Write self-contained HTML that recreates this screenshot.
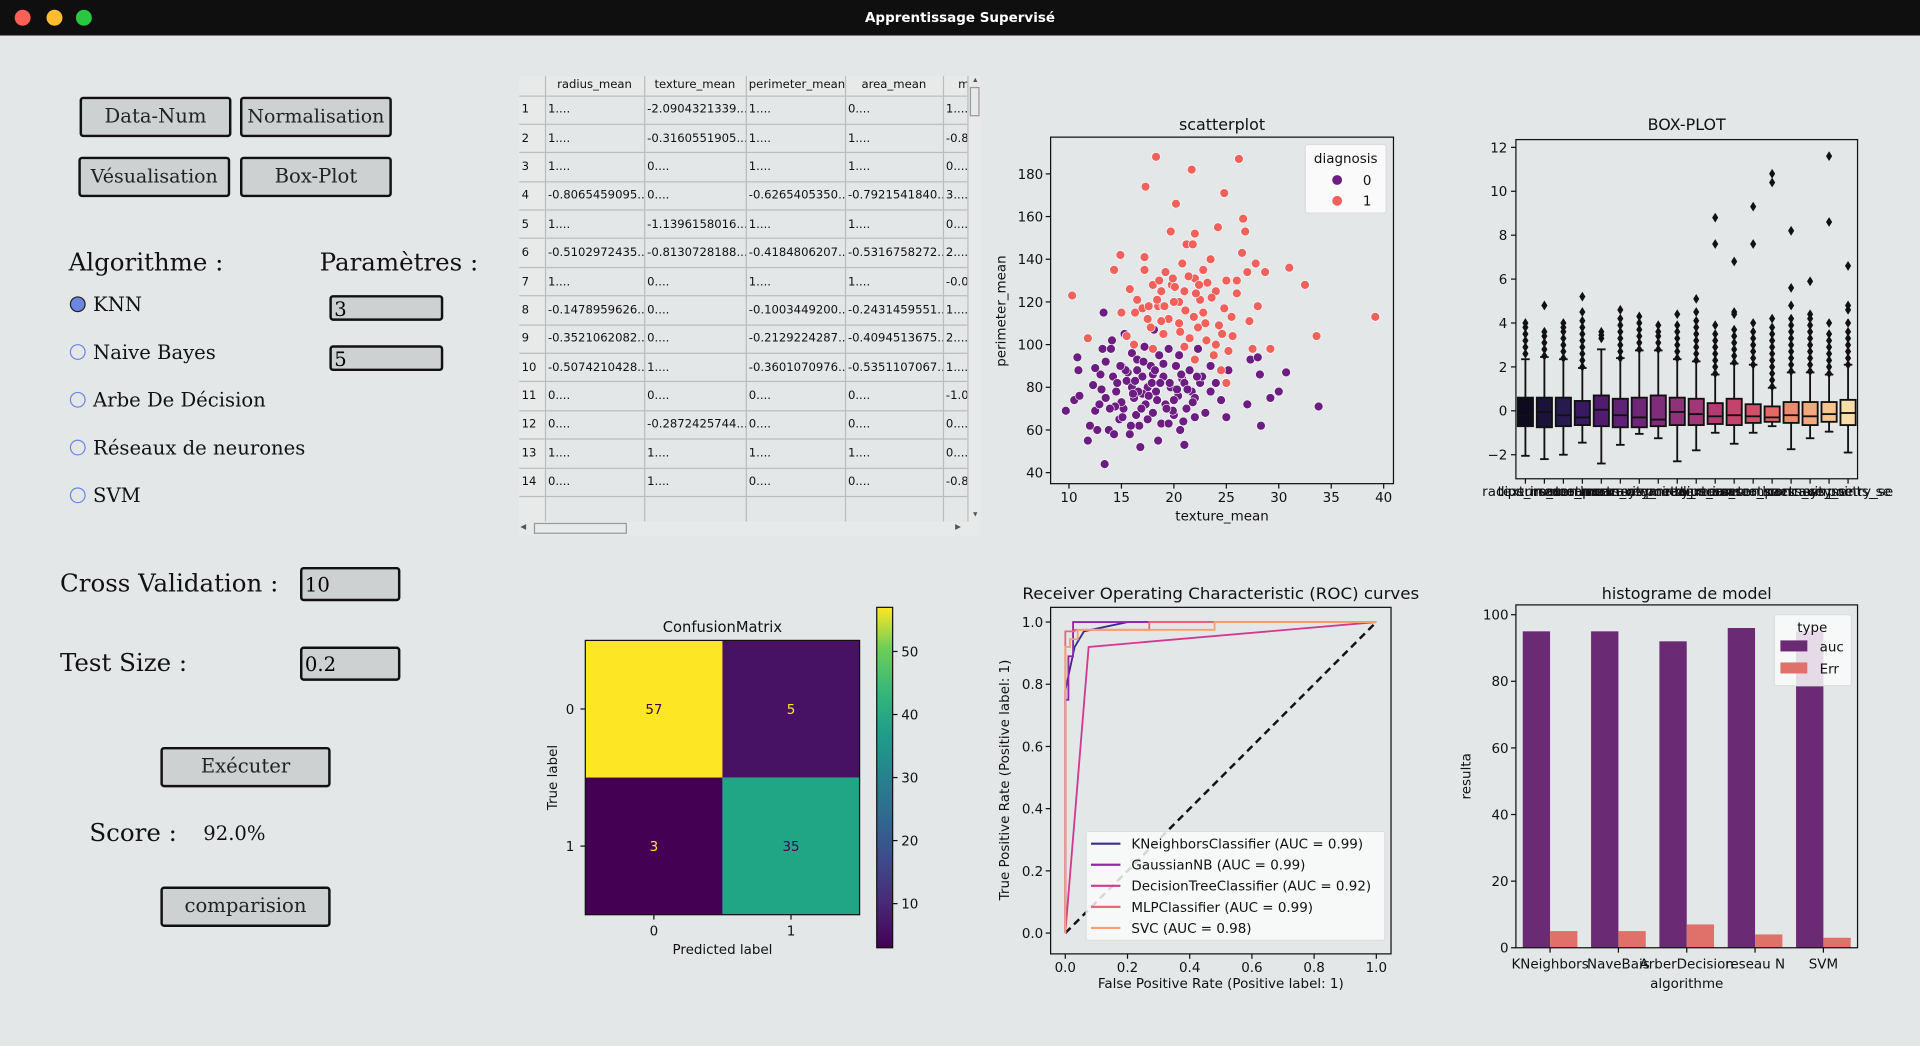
<!DOCTYPE html>
<html><head><meta charset="utf-8">
<style>
html,body{margin:0;padding:0;background:#e4e7e8;overflow:hidden;width:1920px;height:1046px}
#stage{position:absolute;left:0;top:0;width:1568px;height:854px;transform:scale(1.22449);transform-origin:0 0;background:#e4e7e8}
.abs{position:absolute}
.btn{position:absolute;background:#cdd1d1;border:2px solid #111;border-radius:3px;box-sizing:border-box;font-family:"DejaVu Serif","Liberation Serif",serif;font-size:16px;color:#222;text-align:center;line-height:28px;white-space:nowrap}
.lbl{position:absolute;font-family:"DejaVu Serif","Liberation Serif",serif;color:#111;white-space:nowrap}
.inp{position:absolute;background:#cdd1d1;border:2px solid #111;border-radius:3px;box-sizing:border-box;font-family:"DejaVu Serif",serif;font-size:16px;padding-left:2px;line-height:20px}
.radio{position:absolute;width:13px;height:13px;border-radius:50%;border:1px solid #6a86e6;box-sizing:border-box}
table{border-collapse:collapse;font-family:"DejaVu Sans","Liberation Sans",sans-serif;font-size:9.5px;color:#111;table-layout:fixed;width:386px}
td,th{border:1px solid #bcbcbc;white-space:nowrap;overflow:hidden;padding:0 2px;text-align:left;height:23.4px;box-sizing:border-box}
th{font-weight:normal;text-align:center;height:16px;background:#e8eaea;border-top:none}
td.rh{background:#e8eaea;border-left:none}
svg text{font-family:"DejaVu Sans","Liberation Sans",sans-serif}
</style></head><body>
<div id="stage">
  <div class="abs" style="left:0;top:0;width:1568px;height:29px;background:#0f0f0f">
    <div class="abs" style="left:12px;top:8px;width:13px;height:13px;border-radius:50%;background:#fe5f57"></div>
    <div class="abs" style="left:38px;top:8px;width:13px;height:13px;border-radius:50%;background:#febc2e"></div>
    <div class="abs" style="left:62px;top:8px;width:13px;height:13px;border-radius:50%;background:#28c840"></div>
    <div class="abs" style="left:0;width:1568px;top:8px;text-align:center;color:#fff;font:bold 11px 'DejaVu Sans',sans-serif">Apprentissage Supervisé</div>
  </div>

  <div class="btn" style="left:65px;top:79px;width:124px;height:33px">Data-Num</div>
  <div class="btn" style="left:196px;top:79px;width:124px;height:33px;font-size:15.5px">Normalisation</div>
  <div class="btn" style="left:64px;top:128px;width:124px;height:33px;font-size:15.5px">Vésualisation</div>
  <div class="btn" style="left:196px;top:128px;width:124px;height:33px">Box-Plot</div>

  <div class="lbl" style="left:56px;top:202px;font-size:20px">Algorithme :</div>
  <div class="lbl" style="left:261px;top:202px;font-size:20px">Paramètres :</div>

  <div class="radio" style="left:57px;top:242px;background:#6d86e0;border-color:#222"></div>
  <div class="lbl" style="left:76px;top:239px;font-size:16px">KNN</div>
  <div class="radio" style="left:57px;top:281px"></div>
  <div class="lbl" style="left:76px;top:278px;font-size:16px">Naive Bayes</div>
  <div class="radio" style="left:57px;top:320px"></div>
  <div class="lbl" style="left:76px;top:317px;font-size:16px">Arbe De Décision</div>
  <div class="radio" style="left:57px;top:359px"></div>
  <div class="lbl" style="left:76px;top:356px;font-size:16px">Réseaux de neurones</div>
  <div class="radio" style="left:57px;top:398px"></div>
  <div class="lbl" style="left:76px;top:395px;font-size:16px">SVM</div>

  <div class="inp" style="left:269px;top:241px;width:93px;height:21px">3</div>
  <div class="inp" style="left:269px;top:282px;width:93px;height:21px">5</div>

  <div class="lbl" style="left:49px;top:464px;font-size:20px">Cross Validation :</div>
  <div class="inp" style="left:245px;top:463px;width:82px;height:28px;line-height:26px">10</div>
  <div class="lbl" style="left:49px;top:529px;font-size:20px">Test Size :</div>
  <div class="inp" style="left:245px;top:528px;width:82px;height:28px;line-height:26px">0.2</div>

  <div class="btn" style="left:131px;top:610px;width:139px;height:33px">Exécuter</div>
  <div class="lbl" style="left:73px;top:668px;font-size:20px">Score :</div>
  <div class="lbl" style="left:166px;top:671px;font-size:16px">92.0%</div>
  <div class="btn" style="left:131px;top:724px;width:139px;height:33px">comparision</div>

  <div class="abs" style="left:424px;top:62px;width:366px;height:364px;overflow:hidden">
    <table id="tbl">
      <colgroup><col style="width:21px"><col style="width:81px"><col style="width:83px"><col style="width:81px"><col style="width:80px"><col style="width:40px"></colgroup>
      <tr><th style="border-left:none"></th><th>radius_mean</th><th>texture_mean</th><th>perimeter_mean</th><th>area_mean</th><th>mo</th></tr>
    </table>
  </div>
  <div class="abs" style="left:790px;top:62px;width:10px;height:364px;background:#e8eaea;border-left:1px solid #bbb">
    <div class="abs" style="left:1px;top:0px;width:9px;height:8px;font-size:6px;line-height:8px;text-align:center;color:#555">▲</div>
    <div class="abs" style="left:1px;top:9px;width:8px;height:24px;border:1px solid #999;box-sizing:border-box"></div>
    <div class="abs" style="left:1px;top:355px;width:9px;height:8px;font-size:6px;line-height:8px;text-align:center;color:#555">▼</div>
  </div>
  <div class="abs" style="left:424px;top:426px;width:376px;height:11px;background:#e8eaea">
    <div class="abs" style="left:1px;top:1px;width:8px;height:9px;font-size:6px;line-height:9px;color:#555">◀</div>
    <div class="abs" style="left:12px;top:1px;width:76px;height:9px;border:1px solid #999;box-sizing:border-box"></div>
    <div class="abs" style="left:356px;top:1px;width:8px;height:9px;font-size:6px;line-height:9px;color:#555">▶</div>
  </div>

  <svg id="charts" class="abs" style="left:0;top:0" width="1568" height="854"></svg>
</div>

<script>
// ---------- table data ----------
const tableRows = [
 ["1....","-2.0904321339...","1....","0....","1...."],
 ["1....","-0.3160551905...","1....","1....","-0.8"],
 ["1....","0....","1....","1....","0...."],
 ["-0.8065459095...","0....","-0.6265405350...","-0.7921541840...","3...."],
 ["1....","-1.1396158016...","1....","1....","0...."],
 ["-0.5102972435...","-0.8130728188...","-0.4184806207...","-0.5316758272...","2...."],
 ["1....","0....","1....","1....","-0.0"],
 ["-0.1478959626...","0....","-0.1003449200...","-0.2431459551...","1...."],
 ["-0.3521062082...","0....","-0.2129224287...","-0.4094513675...","2...."],
 ["-0.5074210428...","1....","-0.3601070976...","-0.5351107067...","1...."],
 ["0....","0....","0....","0....","-1.0"],
 ["0....","-0.2872425744...","0....","0....","0...."],
 ["1....","1....","1....","1....","0...."],
 ["0....","1....","0....","0....","-0.8"],
 ["","","","",""]
];
// ---------- scatter data ----------
const benignTexture = [9.7,10.5,10.8,10.9,11,11.8,12,12.3,12.5,12.7,13,13.2,13.5,13.3,13.4,13.8,14,14.1,14.3,14.5,14.8,15,15.2,15.3,15.5,15.8,16,16.2,16.4,16.5,16.7,16.8,17,17.2,17.3,17.5,17.8,18,18.1,18.3,18.5,18.6,18.8,19,19.2,19.5,19.7,20,20.2,20.4,20.6,20.8,21,21.2,21.5,21.7,22,22.3,22.5,23,23.5,24,24.5,25,25.2,27,27.3,28,28.2,28.3,29.2,30,30.7,33.8,14.2,16,17,19,20,21,15,18,22,16.5,13.5,19.5,12.5,23.5,20.5,17.5,14.6,15.6,16.9,18.4,19.9,21.3,22.7,17.9,20.9,15.9,13.1,14.4,15.4,16.3,17.6,18.7,19.3,20.3,21.8,22.2,12.9,14.9,16.6,18.2,19.6,15.1,17.1,20.7,13.9,16.1];
const benignPerim   = [69,74,94,88,76,55,62,81,69,60,86,98,92,115,44,60,98,102,58,78,65,90,70,105,83,58,96,75,67,88,62,52,85,99,72,80,90,68,107,78,55,95,63,85,72,98,80,67,90,76,60,84,53,70,88,78,66,98,82,68,90,82,74,66,88,72,93,94,86,62,75,78,87,71,85,80,77,91,74,82,73,86,75,93,75,63,89,78,95,65,82,87,70,74,69,79,85,82,64,62,79,71,88,83,76,82,70,79,73,85,72,90,78,88,82,66,92,86,70,77];
const malignantTexture = [10.3,11.8,14.3,14.9,15,15.8,16.3,16.5,17.2,17.3,17.2,17.5,18,18.3,18.5,18.8,19,19.2,19.7,20.2,20.5,20.8,21,21.2,21.7,21.8,22,22,22.3,22.5,22.8,23.2,23.5,24,24.2,24.8,24.8,25,25.2,25.5,26.2,26.5,26.6,26.8,27,27.2,27.5,28,28.7,29.2,31,32.5,33.6,39.2,18,19.5,20.5,21.5,22.8,23.8,24.5,25,16.2,17.8,19.8,21,23,26,26,20,18.8,22,15.5,24,27.8,19,21.4,23.6,17,20.6,22.4,25.6,18.6,24.6,19.1,20.1,21.1,22.1,23.1,18.4,19.9,21.9,17.6,24.3];
const malignantPerim   = [123,103,135,142,115,126,115,121,141,174,135,112,128,188,118,125,105,134,153,166,110,138,125,147,182,147,131,152,108,121,135,129,140,100,155,117,171,130,97,113,187,143,159,153,134,111,98,118,134,98,136,128,104,113,98,112,120,103,115,95,88,82,100,108,128,99,110,124,130,120,111,93,104,125,138,118,132,122,117,106,128,104,130,105,118,127,116,124,102,121,131,113,118,109];
// ---------- box plot data ----------
const boxFeatures = ["radius_mean","texture_mean","perimeter_mean","area_mean","smoothness_mean","compactness_mean","concavity_mean","concave points_mean","symmetry_mean","radius_se","texture_se","perimeter_se","area_se","smoothness_se","compactness_se","concavity_se","concave points_se","symmetry_se"];
const boxQ1   = [-0.7,-0.75,-0.7,-0.65,-0.7,-0.75,-0.75,-0.7,-0.65,-0.65,-0.6,-0.65,-0.55,-0.5,-0.55,-0.65,-0.5,-0.65];
const boxMed  = [-0.2,-0.05,-0.2,-0.3,0.05,-0.2,-0.3,-0.4,-0.05,-0.15,-0.25,-0.2,-0.25,-0.3,-0.2,-0.25,-0.15,-0.1];
const boxQ3   = [0.6,0.6,0.6,0.45,0.7,0.55,0.6,0.7,0.6,0.55,0.35,0.55,0.3,0.2,0.4,0.4,0.4,0.5];
const boxLow  = [-2.05,-2.2,-2.0,-1.45,-2.4,-1.55,-1.05,-1.25,-2.3,-1.8,-1.0,-1.5,-1.0,-0.7,-1.75,-1.25,-0.95,-1.9];
const boxHigh = [2.35,2.45,2.35,1.95,2.8,2.4,2.75,2.75,2.35,2.25,1.65,2.15,2.1,1.05,1.75,1.75,1.65,2.1];
const boxOutliers = [
 [2.6,2.9,3.2,3.5,3.8,4.0],
 [2.5,2.8,3.1,3.4,3.6,4.8],
 [2.4,2.7,3.0,3.3,3.6,3.8,4.0],
 [2.0,2.3,2.6,2.9,3.2,3.5,3.8,4.1,4.5,5.2],
 [3.3,3.45,3.6],
 [2.4,2.7,3.0,3.3,3.6,3.9,4.2,4.6],
 [2.8,3.1,3.4,3.7,4.0,4.3],
 [2.8,3.1,3.4,3.6,3.9],
 [2.4,2.7,3.0,3.3,3.6,3.9,4.4],
 [2.3,2.6,2.9,3.2,3.5,3.8,4.1,4.5,5.1],
 [1.7,2.0,2.3,2.6,2.9,3.2,3.5,3.9,7.6,8.8],
 [2.2,2.5,2.8,3.1,3.4,3.7,4.4,4.5,6.8],
 [2.1,2.4,2.7,3.0,3.3,3.6,4.0,7.6,9.3],
 [1.1,1.4,1.7,2.0,2.3,2.6,2.9,3.2,3.5,3.8,4.2,10.4,10.8],
 [1.8,2.1,2.4,2.7,3.0,3.3,3.6,3.9,4.2,4.8,5.6,8.2],
 [1.8,2.1,2.4,2.7,3.0,3.3,3.6,3.9,4.2,4.4,5.9],
 [1.7,2.0,2.3,2.6,2.9,3.2,3.5,4.0,8.6,11.6],
 [2.1,2.4,2.7,3.0,3.3,3.6,4.0,4.6,4.8,6.6]
];
const boxColors = ["#0e0b21","#1b1337","#271a4f","#381962","#4f1c6e","#5f2274","#6e2777","#7f2c7b","#903279","#a03776","#b13c70","#c2436c","#d24f68","#e16a66","#ec8a6d","#f3a87d","#f7c48f","#f9deaa"];
const boxYTicks = [-2,0,2,4,6,8,10,12];
// ---------- confusion matrix ----------
const cmValues = [[57,5],[3,35]];
const cmColors = [["#fde725","#471164"],["#440154","#21a685"]];
const cmTextColors = [["#440154","#fde725"],["#fde725","#440154"]];
const cbTicks = [10,20,30,40,50];
// ---------- ROC ----------
const rocNames = ["KNeighborsClassifier (AUC = 0.99)","GaussianNB (AUC = 0.99)","DecisionTreeClassifier (AUC = 0.92)","MLPClassifier (AUC = 0.99)","SVC (AUC = 0.98)"];
const rocColors = ["#3d2a8f","#9028a8","#d13a8f","#f0647a","#f8a070"];
const rocFpr = [
 [0,0,0.03,0.06,0.2,1],
 [0,0,0.01,0.01,0.025,0.025,0.27,1],
 [0,0.075,1],
 [0,0,0.03,0.03,0.27,0.27,1],
 [0,0,0.015,0.015,0.04,0.04,0.48,0.48,1]
];
const rocTpr = [
 [0,0.78,0.92,0.97,1,1],
 [0,0.75,0.75,0.89,0.89,1,1,1],
 [0,0.92,1],
 [0,0.97,0.97,0.975,0.975,1,1],
 [0,0.92,0.92,0.945,0.945,0.975,0.975,1,1]
];
const rocTicks = [0,0.2,0.4,0.6,0.8,1.0];
// ---------- histogram ----------
const histCategories = ["KNeighbors","NaveBais","ArberDecision","reseau N","SVM"];
const histAuc = [95,95,92,96,95];
const histErr = [5,5,7,4,3];
const histTicks = [0,20,40,60,80,100];

// ---------- render table ----------
const tbl = document.getElementById('tbl');
tableRows.forEach((r,i)=>{
  const tr=document.createElement('tr');
  
  
  const h=document.createElement('td');h.className='rh';h.textContent=r[0]===''?'':(i+1);
  tr.appendChild(h);
  r.forEach(c=>{const td=document.createElement('td');td.textContent=c;tr.appendChild(td);});
  tbl.appendChild(tr);
});

// ---------- svg helpers ----------
const NS='http://www.w3.org/2000/svg';
const svg=document.getElementById('charts');
function el(tag,attrs,parent){const e=document.createElementNS(NS,tag);for(const k in attrs)e.setAttribute(k,attrs[k]);(parent||svg).appendChild(e);return e;}
function txt(x,y,s,size,anchor,parent,extra){const t=el('text',Object.assign({x:x,y:y,'font-size':size,'text-anchor':anchor||'middle',fill:'#111'},extra||{}),parent);t.textContent=s;return t;}
function group(name){const g=el('g',{});return g;}

// ---------- scatter ----------
(function(){
  const L=858,R=1138,T=112,B=395;
  const sx=v=>873+(v-10)*(1130-873)/30, sy=v=>386-(v-40)*(386-142)/140;
  const g=group('scatter-plot');
  txt((L+R)/2,106,'scatterplot',13,'middle',g);
  const pts=el('g',{},g);
  
  
  benignTexture.forEach((v,i)=>{const c=el('circle',{cx:sx(v),cy:sy(benignPerim[i]),r:3.6,fill:'#6b1d81',stroke:'#fff','stroke-width':0.5},pts);
    
    });
  malignantTexture.forEach((v,i)=>{const c=el('circle',{cx:sx(v),cy:sy(malignantPerim[i]),r:3.6,fill:'#f2605c',stroke:'#fff','stroke-width':0.5},pts);
    
    });
  el('rect',{x:L,y:T,width:R-L,height:B-T,fill:'none',stroke:'#111','stroke-width':1},g);
  [10,15,20,25,30,35,40].forEach(v=>{el('line',{x1:sx(v),x2:sx(v),y1:B,y2:B+4,stroke:'#111'},g);txt(sx(v),B+15,String(v),11,'middle',g);});
  [40,60,80,100,120,140,160,180].forEach(v=>{el('line',{x1:L,x2:L-4,y1:sy(v),y2:sy(v),stroke:'#111'},g);txt(L-6,sy(v)+4,String(v),11,'end',g);});
  txt((L+R)/2,425,'texture_mean',11,'middle',g);
  txt(0,0,'perimeter_mean',11,'middle',g,{transform:'translate(821,254) rotate(-90)'});
  const lg=el('g',{},g);
  
  
  el('rect',{x:1066,y:118,width:66,height:56,fill:'#fafafa',stroke:'#ddd',rx:2},lg);
  txt(1099,133,'diagnosis',11,'middle',lg);
  el('circle',{cx:1092,cy:147,r:4,fill:'#6b1d81'},lg);txt(1113,151,'0',11,'start',lg);
  el('circle',{cx:1092,cy:164,r:4,fill:'#f2605c'},lg);txt(1113,168,'1',11,'start',lg);
})();

// ---------- box plot ----------
(function(){
  const L=1238,R=1517,T=114,B=391;
  const sy=v=>335.5-v*(371-120)/14;
  const w=(R-L)/boxFeatures.length;
  const g=group('box-plot');
  txt((L+R)/2,106,'BOX-PLOT',13,'middle',g);
  boxFeatures.forEach((f,i)=>{
    const cx=L+w*(i+0.5);
    const bg=el('g',{},g);
    
    
    el('line',{x1:cx,x2:cx,y1:sy(boxHigh[i]),y2:sy(boxQ3[i]),stroke:'#111','stroke-width':1.5},bg);
    el('line',{x1:cx,x2:cx,y1:sy(boxQ1[i]),y2:sy(boxLow[i]),stroke:'#111','stroke-width':1.5},bg);
    el('line',{x1:cx-3.5,x2:cx+3.5,y1:sy(boxHigh[i]),y2:sy(boxHigh[i]),stroke:'#111','stroke-width':1.5},bg);
    el('line',{x1:cx-3.5,x2:cx+3.5,y1:sy(boxLow[i]),y2:sy(boxLow[i]),stroke:'#111','stroke-width':1.5},bg);
    el('rect',{x:cx-w*0.4,y:sy(boxQ3[i]),width:w*0.8,height:sy(boxQ1[i])-sy(boxQ3[i]),fill:boxColors[i],stroke:'#111','stroke-width':1.5},bg);
    el('line',{x1:cx-w*0.4,x2:cx+w*0.4,y1:sy(boxMed[i]),y2:sy(boxMed[i]),stroke:'#111','stroke-width':1.5},bg);
    boxOutliers[i].forEach(o=>{const y=sy(o);el('path',{d:`M${cx} ${y-4}L${cx+2.5} ${y}L${cx} ${y+4}L${cx-2.5} ${y}Z`,fill:'#111'},bg);});
    el('line',{x1:cx,x2:cx,y1:B,y2:B+4,stroke:'#111'},g);
    txt(cx,405,f,11,'middle',g);
  });
  el('rect',{x:L,y:T,width:R-L,height:B-T,fill:'none',stroke:'#111'},g);
  boxYTicks.forEach(v=>{el('line',{x1:L,x2:L-4,y1:sy(v),y2:sy(v),stroke:'#111'},g);txt(L-7,sy(v)+4,v<0?'\u2212'+(-v):String(v),11,'end',g);});
})();

// ---------- confusion matrix ----------
(function(){
  const L=478,T=523,S=112;
  const g=group('confusion-matrix');
  txt(590,516,'ConfusionMatrix',12,'middle',g);
  cmValues.forEach((row,r)=>row.forEach((v,c)=>{
    const cell=el('rect',{x:L+c*S,y:T+r*S,width:S,height:S,fill:cmColors[r][c]},g);
    
    
    txt(L+c*S+S/2,T+r*S+S/2+4,String(v),11,'middle',g,{fill:cmTextColors[r][c]});
  }));
  el('rect',{x:L,y:T,width:2*S,height:2*S,fill:'none',stroke:'#111'},g);
  [0,1].forEach(i=>{
    el('line',{x1:L+i*S+S/2,x2:L+i*S+S/2,y1:T+2*S,y2:T+2*S+4,stroke:'#111'},g);
    txt(L+i*S+S/2,T+2*S+17,String(i),11,'middle',g);
    el('line',{x1:L,x2:L-4,y1:T+i*S+S/2,y2:T+i*S+S/2,stroke:'#111'},g);
    txt(L-9,T+i*S+S/2+4,String(i),11,'end',g);
  });
  txt(590,779,'Predicted label',11,'middle',g);
  txt(0,0,'True label',11,'middle',g,{transform:'translate(455,635) rotate(-90)'});
  const defs=el('defs',{});
  const lgd=el('linearGradient',{id:'vir',x1:0,y1:1,x2:0,y2:0},defs);
  [["0","#440154"],["0.13","#482878"],["0.25","#3e4989"],["0.38","#31688e"],["0.5","#26828e"],["0.63","#1f9e89"],["0.75","#35b779"],["0.88","#6ece58"],["1","#fde725"]].forEach(s=>el('stop',{offset:s[0],'stop-color':s[1]},lgd));
  const cb=el('rect',{x:716,y:496,width:13,height:278,fill:'url(#vir)',stroke:'#111'},g);
  
  
  const cy=v=>774-(v-3)*278/54;
  cbTicks.forEach(v=>{el('line',{x1:729,x2:733,y1:cy(v),y2:cy(v),stroke:'#111'},g);txt(736,cy(v)+4,String(v),11,'start',g);});
})();

// ---------- ROC ----------
(function(){
  const L=858,R=1136,T=496,B=779;
  const sx=v=>870+v*254, sy=v=>762-v*254;
  const g=group('roc-chart');
  txt((L+R)/2,489,'Receiver Operating Characteristic (ROC) curves',13,'middle',g,{textLength:324,lengthAdjust:'spacingAndGlyphs'});
  el('line',{x1:sx(0),y1:sy(0),x2:sx(1),y2:sy(1),stroke:'#111','stroke-width':2,'stroke-dasharray':'6,4'},g);
  rocFpr.forEach((xs,i)=>{
    const d=xs.map((x,j)=>(j?'L':'M')+sx(x)+' '+sy(rocTpr[i][j])).join('');
    const p=el('path',{d:d,fill:'none',stroke:rocColors[i],'stroke-width':1.5},g);
    
    
  });
  el('rect',{x:L,y:T,width:R-L,height:B-T,fill:'none',stroke:'#111'},g);
  rocTicks.forEach(v=>{
    el('line',{x1:sx(v),x2:sx(v),y1:B,y2:B+4,stroke:'#111'},g);txt(sx(v),B+15,v.toFixed(1),11,'middle',g);
    el('line',{x1:L,x2:L-4,y1:sy(v),y2:sy(v),stroke:'#111'},g);txt(L-6,sy(v)+4,v.toFixed(1),11,'end',g);
  });
  txt((L+R)/2,807,'False Positive Rate (Positive label: 1)',11,'middle',g);
  txt(0,0,'True Positive Rate (Positive label: 1)',11,'middle',g,{transform:'translate(824,637) rotate(-90)'});
  const lg=el('g',{},g);
  
  
  el('rect',{x:887,y:679,width:244,height:89,fill:'#fafafa','fill-opacity':0.85,stroke:'#ddd',rx:2},lg);
  rocNames.forEach((n,i)=>{const y=689+i*17.2;el('line',{x1:891,x2:915,y1:y,y2:y,stroke:rocColors[i],'stroke-width':1.8},lg);txt(924,y+4,n,11,'start',lg);});
})();

// ---------- histogram ----------
(function(){
  const L=1238,R=1517,T=494,B=774;
  const sy=v=>774-v*2.72;
  const gw=(R-L)/histCategories.length, bw=gw*0.4;
  const g=group('histogram-chart');
  txt((L+R)/2,489,'histograme de model',13,'middle',g);
  histCategories.forEach((c,i)=>{
    const x0=L+gw*i+gw*0.1;
    const a=el('rect',{x:x0,y:sy(histAuc[i]),width:bw,height:B-sy(histAuc[i]),fill:'#6a2a74'},g);
    
    
    const e=el('rect',{x:x0+bw,y:sy(histErr[i]),width:bw,height:B-sy(histErr[i]),fill:'#e0706a'},g);
    
    
    const cx=L+gw*(i+0.5);
    el('line',{x1:cx,x2:cx,y1:B,y2:B+4,stroke:'#111'},g);txt(cx,B+17,c,11,'middle',g);
  });
  el('rect',{x:L,y:T,width:R-L,height:B-T,fill:'none',stroke:'#111'},g);
  histTicks.forEach(v=>{el('line',{x1:L,x2:L-4,y1:sy(v),y2:sy(v),stroke:'#111'},g);txt(L-6,sy(v)+4,String(v),11,'end',g);});
  txt((L+R)/2,807,'algorithme',11,'middle',g);
  txt(0,0,'resulta',11,'middle',g,{transform:'translate(1201,634) rotate(-90)'});
  const lg=el('g',{},g);
  
  
  el('rect',{x:1449,y:502,width:63,height:58,fill:'#fafafa','fill-opacity':0.85,stroke:'#ddd',rx:2},lg);
  txt(1480,516,'type',11,'middle',lg);
  el('rect',{x:1454,y:523,width:22,height:9,fill:'#6a2a74'},lg);txt(1486,532,'auc',11,'start',lg);
  el('rect',{x:1454,y:541,width:22,height:9,fill:'#e0706a'},lg);txt(1486,550,'Err',11,'start',lg);
})();
</script>
</body></html>
